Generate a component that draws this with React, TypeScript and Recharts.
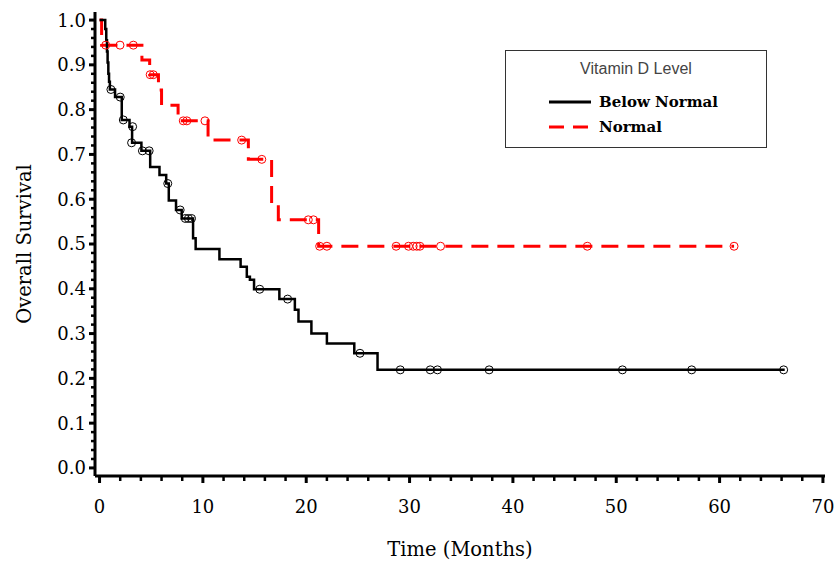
import {
  ComposedChart,
  Line,
  Scatter,
  XAxis,
  YAxis,
  Label,
} from "recharts";

// Kaplan-Meier steps
const belowTime = [0, 0.55, 0.65, 0.72, 0.78, 0.85, 0.92, 1.0, 1.5, 2.15, 2.9, 3.15, 4.05, 4.9, 5.8, 6.45, 6.7, 7.4, 7.95, 9.05, 9.3, 11.6, 13.65, 14.25, 14.55, 14.95, 17.4, 18.9, 19.25, 20.5, 22.0, 24.65, 26.9, 66.3];
const belowSurv = [1.0, 0.98, 0.955, 0.93, 0.905, 0.88, 0.862, 0.845, 0.828, 0.777, 0.762, 0.726, 0.708, 0.672, 0.654, 0.635, 0.597, 0.576, 0.557, 0.513, 0.489, 0.466, 0.449, 0.427, 0.42, 0.399, 0.377, 0.353, 0.327, 0.3, 0.278, 0.256, 0.219, 0.219];
const belowCensTime = [1.1, 2.0, 2.3, 3.2, 3.1, 4.15, 4.8, 6.6, 7.8, 8.3, 8.6, 8.9, 15.5, 18.2, 25.2, 29.1, 32.0, 32.7, 37.7, 50.6, 57.3, 66.2];
const belowCensSurv = [0.845, 0.828, 0.777, 0.762, 0.726, 0.708, 0.708, 0.635, 0.576, 0.557, 0.557, 0.557, 0.399, 0.377, 0.256, 0.219, 0.219, 0.219, 0.219, 0.219, 0.219, 0.219];

const normalTime = [0, 0.2, 4.1, 4.85, 5.7, 6.0, 7.6, 10.5, 14.4, 16.65, 17.3, 21.2, 61.4];
const normalSurv = [1.0, 0.944, 0.911, 0.878, 0.844, 0.81, 0.775, 0.732, 0.689, 0.591, 0.554, 0.495, 0.495];
const normalCensTime = [0.6, 1.98, 3.27, 4.9, 5.2, 8.1, 8.45, 10.2, 13.75, 15.7, 20.2, 20.7, 21.3, 22.0, 28.7, 29.9, 30.35, 30.7, 31.0, 33.0, 47.2, 61.4];
const normalCensSurv = [0.944, 0.944, 0.944, 0.878, 0.878, 0.775, 0.775, 0.775, 0.732, 0.689, 0.554, 0.554, 0.495, 0.495, 0.495, 0.495, 0.495, 0.495, 0.495, 0.495, 0.495, 0.495];

const xTicks = Array.from({ length: 36 }, (_, i) => i * 2);
const yTicks = Array.from({ length: 51 }, (_, i) => i / 50);

const seriesNames = ["Below Normal", "Normal"];
const legendTitle = "Vitamin D Level";

const zip = (t: number[], s: number[]) => t.map((v, i) => ({ t: v, s: s[i] }));
const belowSteps = zip(belowTime, belowSurv);
const belowCens = zip(belowCensTime, belowCensSurv);
const normalSteps = zip(normalTime, normalSurv);
const normalCens = zip(normalCensTime, normalCensSurv);

const SERIF = "'DejaVu Serif', serif";
const RED = "#ff0000";

function XTick({ x, y, payload }: any) {
  const v = payload.value;
  const major = v % 10 === 0;
  return (
    <g>
      <line x1={x} x2={x} y1={y} y2={y + (major ? 7 : 5)} stroke="#000" strokeWidth={major ? 3 : 2.5} />
      {major && (
        <text x={x} y={y + 37} textAnchor="middle" fontFamily={SERIF} fontSize={18} fill="#000">
          {v}
        </text>
      )}
    </g>
  );
}

function YTick({ x, y, payload }: any) {
  const v = payload.value;
  const major = Math.round(v * 50) % 5 === 0;
  return (
    <g>
      <line x1={x - (major ? 6 : 4)} x2={x} y1={y} y2={y} stroke="#000" strokeWidth={major ? 3 : 2.5} />
      {major && (
        <text x={x - 9} y={y} dy="0.36em" textAnchor="end" fontFamily={SERIF} fontSize={18} fill="#000">
          {v.toFixed(1)}
        </text>
      )}
    </g>
  );
}

const censorShape = (color: string) => (props: any) => (
  <circle cx={props.cx} cy={props.cy} r={4} fill="none" stroke={color} strokeWidth={1} />
);

export default function App() {
  return (
    <div style={{ position: "absolute", left: 0, top: 0, width: 837, height: 564, background: "#fff" }}>
      <ComposedChart width={837} height={564} margin={{ top: 12, right: 12, bottom: 0, left: 0 }}>
        <XAxis
          dataKey="t"
          type="number"
          domain={[-0.44, 70.2]}
          ticks={xTicks}
          interval={0}
          allowDataOverflow
          height={88}
          tickSize={0}
          tickMargin={0}
          tickLine={false}
          tick={<XTick />}
          axisLine={{ stroke: "#000", strokeWidth: 3 }}
        >
          <Label
            content={() => (
              <text x={460} y={556} textAnchor="middle" fontFamily={SERIF} fontSize={19.5} fill="#000">
                Time (Months)
              </text>
            )}
          />
        </XAxis>
        <YAxis
          dataKey="s"
          type="number"
          domain={[-0.018, 1.018]}
          ticks={yTicks}
          interval={0}
          allowDataOverflow
          width={95}
          tickSize={0}
          tickMargin={0}
          tickLine={false}
          tick={<YTick />}
          axisLine={{ stroke: "#000", strokeWidth: 3 }}
        >
          <Label
            content={() => (
              <text
                x={31}
                y={244}
                textAnchor="middle"
                transform="rotate(-90 31 244)"
                fontFamily={SERIF}
                fontSize={19.5}
                fill="#000"
              >
                Overall Survival
              </text>
            )}
          />
        </YAxis>
        <Line
          data={normalSteps}
          dataKey="s"
          name={seriesNames[1]}
          type="stepAfter"
          stroke={RED}
          strokeWidth={3}
          strokeDasharray="17 9"
          dot={false}
          activeDot={false}
          isAnimationActive={false}
        />
        <Line
          data={belowSteps}
          dataKey="s"
          name={seriesNames[0]}
          type="stepAfter"
          stroke="#000"
          strokeWidth={2.5}
          dot={false}
          activeDot={false}
          isAnimationActive={false}
        />
        <Scatter data={normalCens} dataKey="s" shape={censorShape(RED)} isAnimationActive={false} />
        <Scatter data={belowCens} dataKey="s" shape={censorShape("#000")} isAnimationActive={false} />
      </ComposedChart>
      <div
        style={{
          position: "absolute",
          left: 505,
          top: 50,
          width: 260,
          height: 96,
          border: "1px solid #333",
          background: "#fff",
        }}
      >
        <svg width={260} height={96} style={{ display: "block" }}>
          <text x={130} y={23} textAnchor="middle" fontFamily="'Liberation Sans', Arial, sans-serif" fontSize={16} fill="#444">
            {legendTitle}
          </text>
          <line x1={43} x2={85} y1={51} y2={51} stroke="#000" strokeWidth={3} />
          <text x={93} y={51} dy="0.36em" fontFamily={SERIF} fontWeight="bold" fontSize={15} fill="#000">
            {seriesNames[0]}
          </text>
          <line x1={43} x2={82} y1={76} y2={76} stroke={RED} strokeWidth={3} strokeDasharray="15 9" />
          <text x={93} y={76} dy="0.36em" fontFamily={SERIF} fontWeight="bold" fontSize={15} fill="#000">
            {seriesNames[1]}
          </text>
        </svg>
      </div>
    </div>
  );
}
